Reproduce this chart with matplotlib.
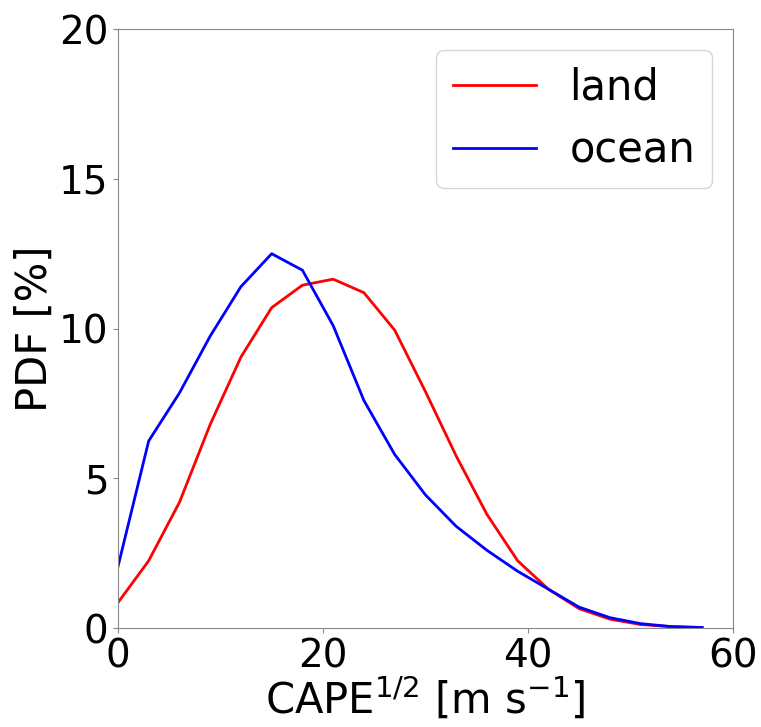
import numpy as np
import matplotlib
matplotlib.use("Agg")
import matplotlib.pyplot as plt

cape = list(range(0, 60, 3))
land = [0.85, 2.25, 4.2, 6.8, 9.05, 10.7, 11.45, 11.65, 11.2, 9.95,
        7.9, 5.75, 3.8, 2.25, 1.3, 0.65, 0.3, 0.12, 0.05, 0.02]
ocean = [2.05, 6.25, 7.85, 9.75, 11.4, 12.5, 11.95, 10.1, 7.6, 5.8,
         4.45, 3.4, 2.6, 1.9, 1.3, 0.7, 0.35, 0.15, 0.05, 0.02]

plt.rcParams["font.size"] = 28

fig = plt.figure(figsize=(7.61, 7.27), dpi=100)
ax = fig.add_axes([0.155, 0.136, 0.808, 0.824])

ax.plot(cape, land, color="red", lw=2, label="land")
ax.plot(cape, ocean, color="blue", lw=2, label="ocean")

ax.set_xlim(0, 60)
ax.set_ylim(0, 20)
ax.set_xticks([0, 20, 40, 60])
ax.set_yticks([0, 5, 10, 15, 20])
ax.set_xlabel(r"CAPE$^{1/2}$ [m s$^{-1}$]", fontsize=30, labelpad=0)
ax.set_ylabel("PDF [%]", fontsize=30, labelpad=2)
for s in ax.spines.values():
    s.set_color("#888888")
ax.tick_params(color="#888888")
ax.legend(loc="upper right", fontsize=30)

fig.savefig("out.png", dpi=100)
